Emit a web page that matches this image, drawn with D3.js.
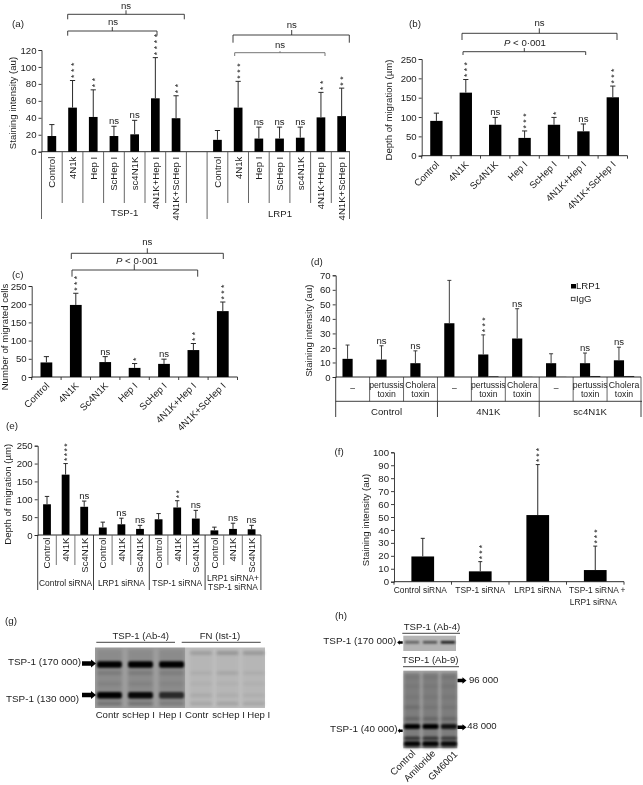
<!DOCTYPE html>
<html><head><meta charset="utf-8">
<script src="https://cdn.jsdelivr.net/npm/d3@7"></script>
<style>
html,body{margin:0;padding:0;background:#fff}
svg{display:block;filter:blur(0.35px)}
text{font-family:"Liberation Sans",Arial,sans-serif;fill:#1c1c1c}
</style></head><body><div id="c"></div>
<script>
// ---- data ----
const aCats=['Control','4N1k','Hep I','ScHep I','sc4N1K','4N1K+Hep I','4N1K+ScHep I','','Control','4N1k','Hep I','ScHep I','sc4N1K','4N1K+Hep I','4N1K+ScHep I'];
const aVals=[18.5,52,41,18.5,20.5,63,39.5,null,14,52,15.5,15.5,16.5,40.5,42];
const aErrs=[32,84,73,30,37,111,66,null,25,83,29,29,29,70,75];
const aSig=['','***','**','ns','ns','****','**','','','***','ns','ns','ns','**','**'];
const aTicks=[0,20,40,60,80,100,120];

const bCats=['Control','4N1K','Sc4N1K','Hep I','ScHep I','4N1K+Hep I','4N1K+ScHep I'];
const bVals=[90,163,80,46,80,63,151];
const bErrs=[110,197,99,64,99,82,180];
const bSig=['','***','ns','***','*','ns','***'];
const bTicks=[0,50,100,150,200,250];

const cCats=['Control','4N1K','Sc4N1K','Hep I','ScHep I','4N1K+Hep I','4N1K+ScHep I'];
const cVals=[40,198,41,25,36,74,181];
const cErrs=[56,230,56,37,49,92,206];
const cSig=['','***','ns','*','ns','**','***'];
const cTicks=[0,50,100,150,200,250];

const dCats=['–','pertussis|toxin','Cholera|toxin','–','pertussis|toxin','Cholera|toxin','–','pertussis|toxin','Cholera|toxin'];
const dGroups=['Control','4N1K','sc4N1K'];
const dLrp=[12.5,12,9.5,37,15.5,26.5,9.5,9.5,11.5];
const dLrpErr=[22,21.5,18,66.5,29,47,16,16.5,20.5];
const dIgG=[0,0,0,0,0.5,0.1,0.1,0.7,0.7];
const dSig=['','ns','ns','','***','ns','','ns','ns'];
const dTicks=[0,10,20,30,40,50,60,70];

const eCats=['Control','4N1K','Sc4N1K','Control','4N1K','Sc4N1K','Control','4N1K','Sc4N1K','Control','4N1K','Sc4N1K'];
const eGroups=['Control siRNA','LRP1 siRNA','TSP-1 siRNA','LRP1 siRNA+|TSP-1 siRNA'];
const eVals=[86,169,79,21,30,17,44,77,46,13,17,16];
const eErrs=[108,200,95,36,47,27,60,96,69,22,33,27];
const eSig=['','****','ns','','ns','ns','','**','ns','','ns','ns'];
const eTicks=[0,50,100,150,200,250];

const fCats=['Control siRNA','TSP-1 siRNA','LRP1 siRNA','TSP-1 siRNA +|LRP1 siRNA'];
const fVals=[19.5,8,51.5,9];
const fErrs=[33.5,15.5,90.5,27.5];
const fSig=['','***','***','***'];
const fTicks=[0,10,20,30,40,50,60,70,80,90,100];

// blot lanes and band strength per lane (relative position along the blot, strengths 0-1)
const gLanesLeft=['Contr','scHep I','Hep I'];
const gLanesRight=['Contr ','scHep I ','Hep I '];
const gPositions=[0.09,0.28,0.42,0.60,0.79,0.93];
const gLeftBands=[[0,0,0],[1,1,1],[.14,.14,.12],[.08,.08,.06],[1,.95,.7],[.2,.2,.12]];
const gRightBands=[[.16,.22,.2],[0,0,0],[.06,.1,.06],[.04,.04,.04],[.08,.06,.05],[.1,.12,.1]];
const hLanes=['Control','Amiloride','GM6001'];
const hTopBands=[.5,.6,.95];
const hPositions=[.08,.2,.34,.47,.62,.72,.87,.94,.98];
const hBands=[[.06,.06,.08],[.05,.05,.07],[.06,.06,.06],[.15,.08,.08],[.24,.22,.2],[1,1,.85],[.55,.55,.5],[.95,.95,.9],[.35,.35,.35]];

// ---- drawing ----
const W=643,H=785,FS=9.6;
const svg=d3.select('#c').append('svg').attr('width',W).attr('height',H).attr('viewBox',`0 0 ${W} ${H}`);
const defs=svg.append('defs');
defs.append('filter').attr('id','blur').attr('x','-20%').attr('y','-150%').attr('width','140%').attr('height','400%')
  .append('feGaussianBlur').attr('stdDeviation','0.9');
defs.append('filter').attr('id','blur2').attr('x','-30%').attr('y','-300%').attr('width','160%').attr('height','700%')
  .append('feGaussianBlur').attr('stdDeviation','1.8');
defs.append('filter').attr('id','blur3').attr('x','-20%').attr('y','-20%').attr('width','140%').attr('height','140%')
  .append('feGaussianBlur').attr('stdDeviation','1.8');
const INK='#2a2a2a';

function txt(g,x,y,s,o={}){
  const t=g.append('text').attr('x',x).attr('y',y).attr('font-size',o.fs||FS).text(s);
  if(o.anchor)t.attr('text-anchor',o.anchor);
  if(o.rot!=null)t.attr('transform',`rotate(${o.rot} ${x} ${y})`);
  return t;
}
function line(g,x1,y1,x2,y2,c=INK,w=0.9){
  g.append('line').attr('x1',x1).attr('y1',y1).attr('x2',x2).attr('y2',y2).attr('stroke',c).attr('stroke-width',w);
}
function bracket(g,x1,x2,y,drop,mx,rise,c=INK){
  g.append('path').attr('fill','none').attr('stroke',c).attr('stroke-width',0.9)
    .attr('d',`M${x1},${y+drop}V${y}H${x2}V${y+drop}M${mx},${y}V${y-rise}`);
}
// significance: "ns" as text, stars as one vertical run of text above the error cap
function sig(g,x,y,s,sp=5.6){
  if(!s)return;
  if(s==='ns'){txt(g,x,y-2,'ns',{anchor:'middle'});return;}
  const fs=8.5, adv=fs*0.389;
  txt(g,x+4.6,y-2.5,s,{fs,rot:-90}).attr('letter-spacing',sp-adv);
}
function yAxis(g,y,x,ticks){
  const ax=g.append('g').attr('transform',`translate(${x},0)`)
    .call(d3.axisLeft(y).tickValues(ticks).tickSize(3).tickPadding(2).tickFormat(d3.format('d')));
  ax.selectAll('path,line').attr('stroke',INK).attr('stroke-width',0.9);
  ax.selectAll('text').attr('font-size',FS).attr('font-family',null);
  return ax;
}
function xBase(g,x0,x1,y0,band,showTicks){
  line(g,x0,y0,x1,y0,INK,1);
  if(showTicks)d3.range(band.domain().length+1).forEach(i=>line(g,band.range()[0]+i*band.step(),y0,band.range()[0]+i*band.step(),y0+3));
}
function bars(g,x,y,keys,vals,errs,sigs,opt={}){
  const cx=k=>x(k)+x.bandwidth()/2, capW=opt.cap||2.6, col=opt.col||INK;
  keys.forEach((k,i)=>{
    if(vals[i]==null)return;
    g.append('rect').attr('x',x(k)).attr('width',x.bandwidth()).attr('y',y(vals[i])).attr('height',y(0)-y(vals[i])).attr('fill','#000');
    line(g,cx(k),y(vals[i]),cx(k),y(errs[i]),col,1);
    line(g,cx(k)-capW,y(errs[i]),cx(k)+capW,y(errs[i]),col,1);
    sig(g,cx(k),y(errs[i]),sigs[i],opt.sp);
  });
}
const idx=a=>a.map((_,i)=>i);
function band(n,x0,x1,inner){return d3.scaleBand().domain(d3.range(n)).range([x0,x1]).paddingInner(inner).paddingOuter(inner/2);}

// (a)
(function(){
  const g=svg.append('g');
  txt(g,12,27.3,'(a)',{fs:9.8});
  const y=d3.scaleLinear().domain([0,120]).range([151.7,50]);
  const x=band(15,41.5,352,0.58);
  yAxis(g,y,41.5,aTicks);
  const outer=d3.scaleBand().domain(d3.range(15)).range([41.5,352]);
  line(g,41.5,151.7,350,151.7,INK,1);
  bars(g,x,y,idx(aCats),aVals,aErrs,aSig,{sp:6});
  d3.range(16).forEach(i=>{
    const xx=41.5+i*outer.step();
    const long=i===0||i===8||i===15;
    if(i===15)line(g,349.5,151.7,349.5,219,'#555');
    else line(g,xx,151.7,xx,long?219:203,'#555');
  });
  aCats.forEach((c,i)=>{
    if(!c)return;
    const cx=x(i)+x.bandwidth()/2;
    txt(g,cx+3.4,156.7,c,{anchor:'end',rot:-90});
  });
  txt(g,124.7,216,'TSP-1',{anchor:'middle'});
  txt(g,280,217.3,'LRP1',{anchor:'middle'});
  txt(g,15.5,103,'Staining intensity (au)',{anchor:'middle',rot:-90});
  bracket(g,67.7,184.3,14.3,5,126,4); txt(g,126,9,'ns',{anchor:'middle'});
  bracket(g,67.7,157,31,4.7,112.3,4); txt(g,113,25,'ns',{anchor:'middle'});
  bracket(g,233,349.3,35,7.7,291.7,5); txt(g,291.7,28,'ns',{anchor:'middle'});
  bracket(g,234.7,325,52.7,3.3,280,1.5,'#666'); txt(g,280,48.3,'ns',{anchor:'middle'});
})();

// rotated-label panels (b) and (c)
function rotPanel(cfg){
  const g=svg.append('g');
  const y=d3.scaleLinear().domain(cfg.dom).range([cfg.y0,cfg.y1]);
  const x=band(cfg.cats.length,cfg.x0,cfg.x1,cfg.inner);
  yAxis(g,y,cfg.x0,cfg.ticks);
  xBase(g,cfg.x0,cfg.x1,cfg.y0,d3.scaleBand().domain(d3.range(cfg.cats.length)).range([cfg.x0,cfg.x1]),true);
  bars(g,x,y,idx(cfg.cats),cfg.vals,cfg.errs,cfg.sig,{sp:5.8});
  cfg.cats.forEach((c,i)=>{
    const cx=x(i)+x.bandwidth()/2;
    txt(g,cx+3.5,cfg.y0+9.5,c,{anchor:'end',rot:-45});
  });
  return g;
}
(function(){
  const g=rotPanel({cats:bCats,vals:bVals,errs:bErrs,sig:bSig,ticks:bTicks,dom:[0,250],y0:155.7,y1:59,x0:421.7,x1:627.5,inner:0.58});
  txt(g,409,26.7,'(b)',{fs:9.8});
  txt(g,392,110,'Depth of migration (µm)',{anchor:'middle',rot:-90});
  bracket(g,462,617,33.3,6.7,539.3,5); txt(g,539.5,26,'ns',{anchor:'middle'});
  bracket(g,463,585.7,51.7,3.3,524.3,3.7);
  const t=txt(g,525,45.7,'',{anchor:'middle'});
  t.append('tspan').attr('font-style','italic').text('P');t.append('tspan').text(' < 0·001');
})();
(function(){
  const g=rotPanel({cats:cCats,vals:cVals,errs:cErrs,sig:cSig,ticks:cTicks,dom:[0,250],y0:377,y1:286,x0:31.7,x1:237.5,inner:0.6});
  txt(g,12,277.7,'(c)',{fs:9.8});
  txt(g,8,337,'Number of migrated cells',{anchor:'middle',rot:-90});
  bracket(g,71.3,223.3,253.3,5.7,147.3,5); txt(g,147.3,245,'ns',{anchor:'middle'});
  bracket(g,72,197.7,270,6.7,134.3,5.7);
  const t=txt(g,137,263.7,'',{anchor:'middle'});
  t.append('tspan').attr('font-style','italic').text('P');t.append('tspan').text(' < 0·001');
})();

// (d)
(function(){
  const g=svg.append('g');
  txt(g,310.7,264.7,'(d)',{fs:9.8});
  const y0=377;
  const y=d3.scaleLinear().domain([0,70]).range([y0,275.3]);
  const x0=335.7,x1=641;
  const x=d3.scaleBand().domain(d3.range(9)).range([x0,x1]);
  const inner=d3.scaleBand().domain(['LRP1','IgG']).range([x.step()*0.2,x.step()*0.8]);
  yAxis(g,y,x0,dTicks);
  dCats.forEach((c,i)=>{
    const lx=x(i)+inner('LRP1'),bw=inner.bandwidth();
    g.append('rect').attr('x',lx).attr('width',bw).attr('y',y(dLrp[i])).attr('height',y0-y(dLrp[i])).attr('fill','#000');
    if(dIgG[i]>0)g.append('rect').attr('x',x(i)+inner('IgG')).attr('width',bw).attr('y',y(dIgG[i])).attr('height',y0-y(dIgG[i])).attr('fill','#222');
    const cx=lx+bw/2;
    line(g,cx,y(dLrp[i]),cx,y(dLrpErr[i]));
    line(g,cx-2,y(dLrpErr[i]),cx+2,y(dLrpErr[i]));
    sig(g,cx,y(dLrpErr[i]),dSig[i],5.8);
    const tc=x(i)+x.step()/2;
    const parts=c.split('|');
    if(parts.length===1)txt(g,tc,390.5,c,{anchor:'middle',fs:8.6});
    else{txt(g,tc,387.7,parts[0],{anchor:'middle',fs:8.7});txt(g,tc,397.3,parts[1],{anchor:'middle',fs:8.7});}
    line(g,x(i)+x.step(),y0,x(i)+x.step(),401.3,'#555');
  });
  line(g,x0,y0,x1,y0,INK,1);
  line(g,x0,y0,x0,417,INK);
  line(g,x0,401.3,642,401.3,INK);
  dGroups.forEach((s,i)=>{
    const gx=x0+(i+1)*3*x.step();
    line(g,gx,401.3,gx,417,INK);
    txt(g,x0+(i+.5)*3*x.step(),415,s,{anchor:'middle'});
  });
  g.append('rect').attr('x',571).attr('y',284).attr('width',5).attr('height',4.5).attr('fill','#000');
  txt(g,576,288.7,'LRP1');
  g.append('rect').attr('x',571.3).attr('y',297.3).attr('width',3.7).attr('height',3.4).attr('fill','#fff').attr('stroke',INK).attr('stroke-width',0.8);
  txt(g,576,302,'IgG');
  txt(g,312,330.7,'Staining intensity (au)',{anchor:'middle',rot:-90});
})();

// (e)
(function(){
  const g=svg.append('g');
  txt(g,6,429,'(e)',{fs:9.8});
  const y0=535;
  const y=d3.scaleLinear().domain([0,250]).range([y0,445.7]);
  const x0=37.7,x1=260.9;
  const x=band(12,x0,x1,0.58), o=d3.scaleBand().domain(d3.range(12)).range([x0,x1]);
  yAxis(g,y,x0,eTicks);
  bars(g,x,y,idx(eCats),eVals,eErrs,eSig,{sp:4.8,cap:2.2});
  line(g,x0,y0,x1,y0,INK,1);
  eCats.forEach((c,i)=>{
    const cx=x(i)+x.bandwidth()/2;
    txt(g,cx+3.4,537.5,c,{anchor:'end',rot:-90});
  });
  d3.range(13).forEach(i=>{
    const xx=x0+i*o.step();
    line(g,xx,y0,xx,i%3===0?590:565,i%3===0?INK:'#666');
  });
  eGroups.forEach((s,i)=>{
    const cx=x0+(i+.5)*3*o.step(), parts=s.split('|');
    if(parts.length===1)txt(g,cx,585.7,s,{anchor:'middle',fs:8.4});
    else{txt(g,cx,580.7,parts[0],{anchor:'middle',fs:8.4});txt(g,cx,589.5,parts[1],{anchor:'middle',fs:8.4});}
  });
  txt(g,10.7,494.3,'Depth of migration (µm)',{anchor:'middle',rot:-90});
})();

// (f)
(function(){
  const g=svg.append('g');
  txt(g,334.5,455,'(f)',{fs:9.8});
  const y0=581.7;
  const y=d3.scaleLinear().domain([0,100]).range([y0,452.3]);
  const x0=394,x1=624;
  const x=band(4,x0,x1,0.605), o=d3.scaleBand().domain(d3.range(4)).range([x0,x1]);
  yAxis(g,y,x0,fTicks);
  bars(g,x,y,idx(fCats),fVals,fErrs,fSig,{sp:5.4,cap:2});
  xBase(g,x0,x1,y0,o,true);
  fCats.forEach((s,i)=>{
    const cx=x0+(i+.5)*o.step(), parts=s.split('|');
    const dx=parts[1]?2:(i===0?-2.5:0);
    txt(g,cx+dx,593.3,parts[0],{anchor:'middle',fs:8.4});
    if(parts[1])txt(g,cx-2,605,parts[1],{anchor:'middle',fs:8.4});
  });
  txt(g,369,520,'Staining intensity (au)',{anchor:'middle',rot:-90});
})();

// blots
function arrow(g,x,y,dir,len,th){
  const hd=Math.min(5,len*.45),s=dir;
  g.append('path').attr('fill','#000')
    .attr('d',`M${x},${y-th/2}h${s*(len-hd)}v${-th*.4}l${s*hd},${th*.9}l${-s*hd},${th*.9}v${-th*.4}h${-s*(len-hd)}Z`);
}
function blotBands(g,lanes,lx,posY,positions,matrix,th,bg){
  lanes.forEach((ln,j)=>{
    g.append('rect').attr('x',lx(ln)).attr('width',lx.bandwidth()).attr('y',posY.range()[0]+2).attr('height',posY.range()[1]-posY.range()[0]-4)
      .attr('fill','#000').attr('opacity',bg).attr('filter','url(#blur3)');
    positions.forEach((p,i)=>{
      const v=matrix[i][j];
      if(v<=0)return;
      g.append('rect').attr('x',lx(ln)).attr('width',lx.bandwidth()).attr('y',posY(p)-th(v)/2).attr('height',th(v)).attr('rx',2)
        .attr('fill','#050505').attr('opacity',v).attr('filter',v>0.45?'url(#blur)':'url(#blur2)');
    });
  });
}
(function(){
  const g=svg.append('g');
  txt(g,5,624,'(g)',{fs:9.8});
  line(g,96.3,642.3,175,642.3,'#444',1); line(g,181.7,642.3,260.7,642.3,'#444',1);
  txt(g,140.7,639.3,'TSP-1 (Ab-4)',{anchor:'middle'});
  txt(g,220,639.3,'FN (Ist-1)',{anchor:'middle'});
  g.append('rect').attr('x',95).attr('y',647.5).attr('width',90).attr('height',60.5).attr('fill','#9c9c9c');
  g.append('rect').attr('x',185).attr('y',647.5).attr('width',80).attr('height',60.5).attr('fill','#bdbdbd');
  const posY=d3.scaleLinear().domain([0,1]).range([647.5,708]);
  const th=v=>v>0.5?6.5:3;
  blotBands(g,gLanesLeft,d3.scaleBand().domain(gLanesLeft).range([97,184]).paddingInner(.2),posY,gPositions,gLeftBands,th,.1);
  blotBands(g,gLanesRight,d3.scaleBand().domain(gLanesRight).range([190,265]).paddingInner(.15),posY,gPositions,gRightBands,th,.03);
  arrow(g,82,663.5,1,14,4.5); arrow(g,82,695,1,14,4.5);
  txt(g,8,665,'TSP-1 (170 000)',{fs:9.9}); txt(g,6,701.7,'TSP-1 (130 000)',{fs:9.9});
  [['Contr',95.7],['scHep I',122.3],['Hep I',158.7],['Contr',185],['scHep I',212.3],['Hep I',247.3]]
    .forEach(d=>txt(g,d[1],717.7,d[0]));
})();
(function(){
  const g=svg.append('g');
  txt(g,335,619.3,'(h)',{fs:9.8});
  txt(g,432,630,'TSP-1 (Ab-4)',{anchor:'middle'}); line(g,402.3,633.3,460,633.3,'#444',1);
  txt(g,430.3,663.3,'TSP-1 (Ab-9)',{anchor:'middle'}); line(g,403,666.7,459,666.7,'#444',1);
  g.append('rect').attr('x',403.3).attr('y',635.7).attr('width',52.7).attr('height',15.3).attr('fill','#b4b4b4');
  const lx=d3.scaleBand().domain(hLanes).range([404,456]).paddingInner(.1);
  const topY=d3.scaleLinear().domain([0,1]).range([635.7,651]);
  hLanes.forEach((l,i)=>g.append('rect').attr('x',lx(l)+1).attr('width',lx.bandwidth()-2).attr('y',topY(.43)-1.2).attr('height',2.4)
    .attr('fill','#000').attr('opacity',hTopBands[i]).attr('filter','url(#blur)'));
  g.append('rect').attr('x',403.3).attr('y',670.7).attr('width',54).attr('height',77.6).attr('fill','#a6a6a6');
  const posY=d3.scaleLinear().domain([0,1]).range([670.7,748.3]);
  const th=v=>v>0.8?5:(v>.45?3.5:3);
  blotBands(g,hLanes,d3.scaleBand().domain(hLanes).range([404,457]).paddingInner(.12),posY,hPositions,hBands,th,.24);
  arrow(g,402.7,642.5,-1,5.5,2.5);
  arrow(g,457.5,680.5,1,9,3.5);
  arrow(g,457.5,727.3,1,9,3.5);
  arrow(g,402.7,730.7,-1,5,2.5);
  txt(g,323.3,644,'TSP-1 (170 000)',{fs:9.9}); txt(g,330,732.3,'TSP-1 (40 000)',{fs:9.9});
  txt(g,469,683.3,'96 000'); txt(g,467.3,729.3,'48 000');
  [[416,751],[436,751],[458,752]].forEach((p,i)=>txt(g,p[0],p[1]+3,hLanes[i],{anchor:'end',rot:-45}));
})();
</script></body></html>
